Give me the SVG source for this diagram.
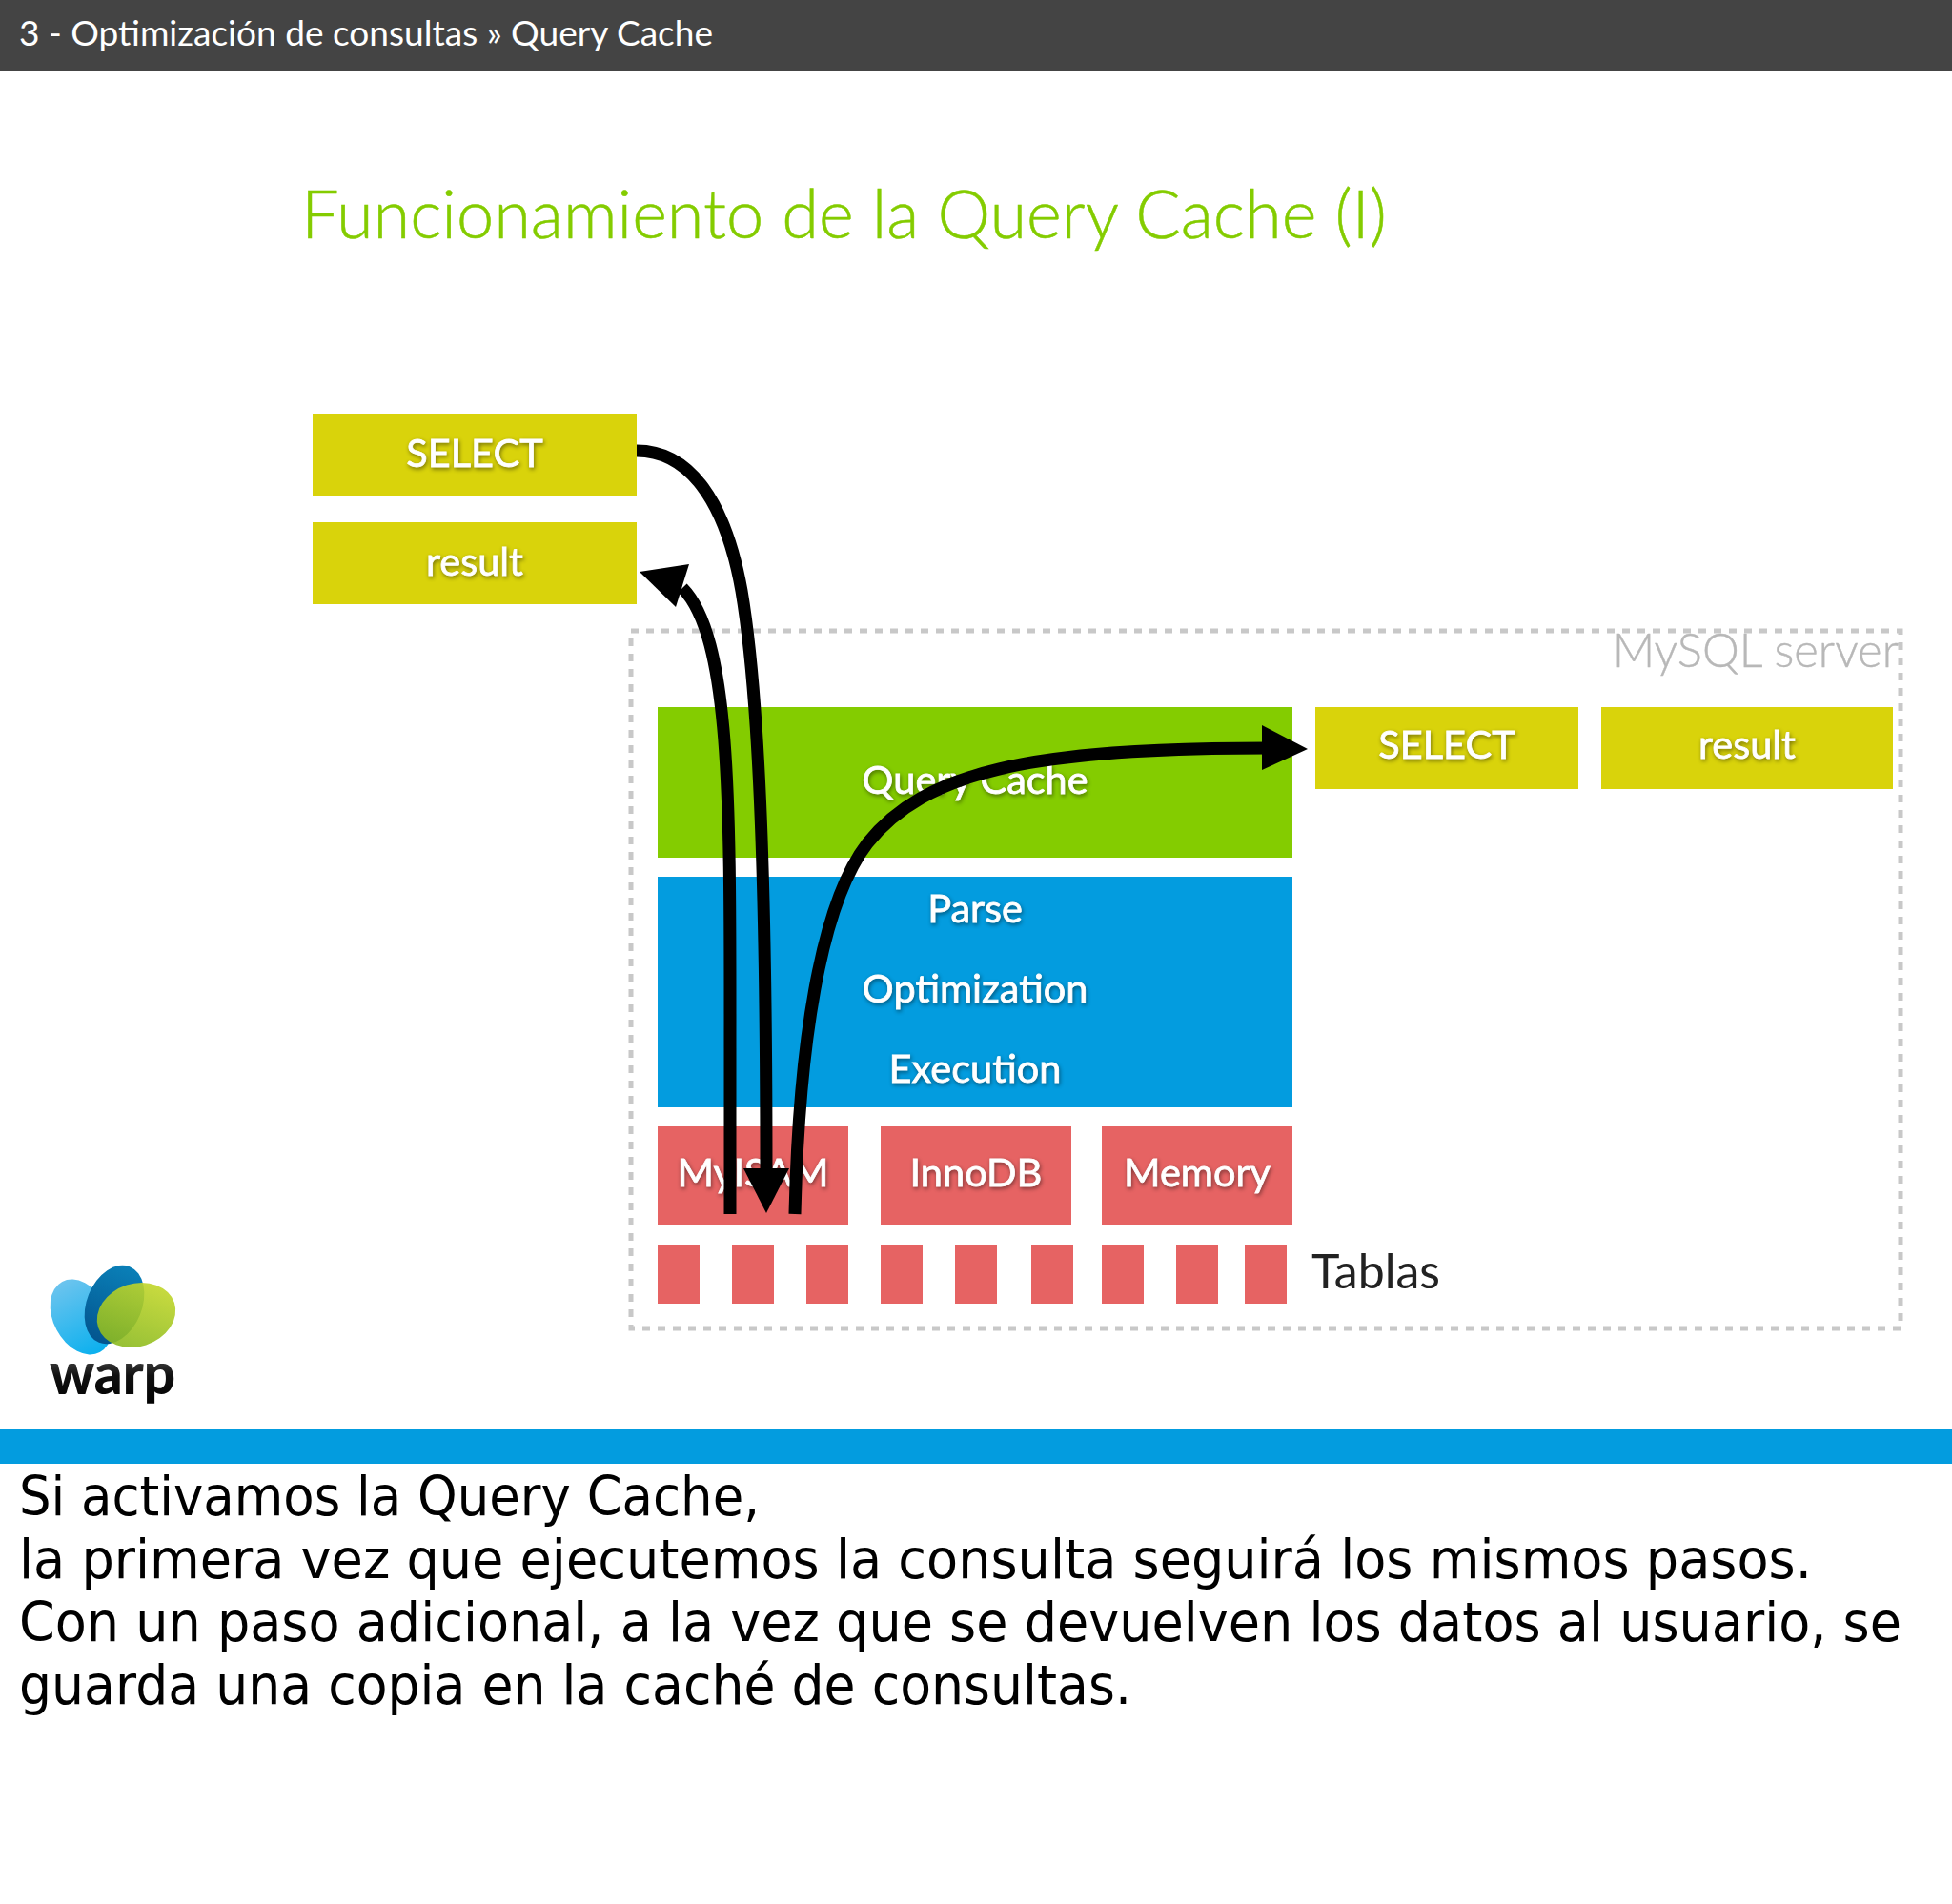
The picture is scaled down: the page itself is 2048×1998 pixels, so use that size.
<svg xmlns="http://www.w3.org/2000/svg" width="2048" height="1998" viewBox="0 0 2048 1998">
<defs>
<style>
.lbl{font-family:"Lato","Liberation Sans",sans-serif;font-weight:400;font-size:41.5px;fill:#fff;stroke:#fff;stroke-width:.8px;text-anchor:middle;filter:drop-shadow(1px 2px 2px rgba(0,0,0,.45))}
.y{fill:#d9d30b}.r{fill:#e66363}
.arr{fill:none;stroke:#000;stroke-width:13}
.body{font-family:"DejaVu Sans",sans-serif;font-size:57px;fill:#000}
</style>
<linearGradient id="lb" x1="0" y1="0" x2="0" y2="1"><stop offset="0" stop-color="#6cc4ee"/><stop offset="1" stop-color="#0bb0ee"/></linearGradient>
<linearGradient id="db" x1="0" y1="0" x2="0" y2="1"><stop offset="0" stop-color="#0a80b8"/><stop offset="1" stop-color="#03558f"/></linearGradient>
<linearGradient id="gr" x1="1" y1="0" x2="0" y2="1"><stop offset="0" stop-color="#cddc2c"/><stop offset="1" stop-color="#80b41e"/></linearGradient>
<linearGradient id="wt" x1="0" y1="0" x2="0" y2="1"><stop offset="0" stop-color="#777"/><stop offset=".55" stop-color="#111"/><stop offset="1" stop-color="#000"/></linearGradient>
</defs>
<rect width="2048" height="1998" fill="#fff"/>
<g id="header"><rect width="2048" height="75" fill="#444"/>
<text x="20" y="48" font-family="Lato,sans-serif" font-size="37" fill="#fff" textLength="728" lengthAdjust="spacingAndGlyphs">3 - Optimización de consultas » Query Cache</text></g>
<text id="title" x="316" y="250" font-family="Lato,sans-serif" font-weight="300" font-size="70" fill="#84cc00" stroke="#84cc00" stroke-width=".5" textLength="1139" lengthAdjust="spacingAndGlyphs">Funcionamiento de la Query Cache (I)</text>
<g id="mysql-server"><rect x="662" y="662" width="1332" height="732" fill="none" stroke="#c8c8c8" stroke-width="5" stroke-dasharray="8 8"/>
<text x="1992" y="700" text-anchor="end" font-family="Lato,sans-serif" font-weight="300" font-size="49" fill="#b8b8b8" stroke="#b8b8b8" stroke-width=".4">MySQL server</text></g>
<g id="select-client"><rect class="y" x="328" y="434" width="340" height="86"/><text class="lbl" x="498" y="490">SELECT</text></g>
<g id="result-client"><rect class="y" x="328" y="548" width="340" height="86"/><text class="lbl" x="498" y="604">result</text></g>
<g id="query-cache"><rect x="690" y="742" width="666" height="158" fill="#84cc00"/><text class="lbl" x="1023" y="833">Query Cache</text></g>
<g id="engine"><rect x="690" y="920" width="666" height="242" fill="#039cdf"/><text class="lbl" x="1023" y="968">Parse</text><text class="lbl" x="1023" y="1052">Optimization</text><text class="lbl" x="1023" y="1136">Execution</text></g>
<g id="select-cache"><rect class="y" x="1380" y="742" width="276" height="86"/><text class="lbl" x="1518" y="796">SELECT</text></g>
<g id="result-cache"><rect class="y" x="1680" y="742" width="306" height="86"/><text class="lbl" x="1833" y="796">result</text></g>
<g id="myisam"><rect class="r" x="690" y="1182" width="200" height="104"/><text class="lbl" x="790" y="1245">MyISAM</text></g>
<g id="innodb"><rect class="r" x="924" y="1182" width="200" height="104"/><text class="lbl" x="1024" y="1245">InnoDB</text></g>
<g id="memory"><rect class="r" x="1156" y="1182" width="200" height="104"/><text class="lbl" x="1256" y="1245">Memory</text></g>
<g id="tablas"><g class="r"><rect x="690" y="1306" width="44" height="62"/><rect x="768" y="1306" width="44" height="62"/><rect x="846" y="1306" width="44" height="62"/><rect x="924" y="1306" width="44" height="62"/><rect x="1002" y="1306" width="44" height="62"/><rect x="1082" y="1306" width="44" height="62"/><rect x="1156" y="1306" width="44" height="62"/><rect x="1234" y="1306" width="44" height="62"/><rect x="1306" y="1306" width="44" height="62"/></g>
<text x="1376" y="1352" font-family="Lato,sans-serif" font-size="50" fill="#222">Tablas</text></g>
<g id="connectors">
<path class="arr" d="M668 473C720 473 760 520 778 620C795 720 804 900 804 1230"/><path d="M780 1226H828L804 1273Z"/>
<path class="arr" d="M766 1274V1100C766 850 768 670 716 617"/><path d="M671 600L723 592L709 637Z"/>
<path class="arr" d="M834 1274C838 1100 860 950 910 885C970 810 1080 785 1330 785"/><path d="M1324 761L1372 786L1324 808Z"/>
</g>
<g id="logo">
<ellipse cx="85" cy="1382" rx="29" ry="42" transform="rotate(-28 85 1382)" fill="url(#lb)"/>
<ellipse cx="120" cy="1369" rx="29" ry="43" transform="rotate(22 120 1369)" fill="url(#db)"/>
<ellipse cx="143" cy="1380" rx="42" ry="33" transform="rotate(-18 143 1380)" fill="url(#gr)" fill-opacity=".9"/>
<text x="118" y="1463" text-anchor="middle" font-family="Lato,sans-serif" font-weight="900" font-size="60" fill="url(#wt)" textLength="132" lengthAdjust="spacingAndGlyphs">warp</text></g>
<rect id="bar" y="1500" width="2048" height="36" fill="#039cdf"/>
<g id="caption"><text class="body" x="20" y="1590" textLength="777" lengthAdjust="spacingAndGlyphs">Si activamos la Query Cache,</text>
<text class="body" x="20" y="1656" textLength="1881" lengthAdjust="spacingAndGlyphs">la primera vez que ejecutemos la consulta seguirá los mismos pasos.</text>
<text class="body" x="20" y="1722" textLength="1975" lengthAdjust="spacingAndGlyphs">Con un paso adicional, a la vez que se devuelven los datos al usuario, se</text>
<text class="body" x="20" y="1788" textLength="1167" lengthAdjust="spacingAndGlyphs">guarda una copia en la caché de consultas.</text></g>
</svg>
